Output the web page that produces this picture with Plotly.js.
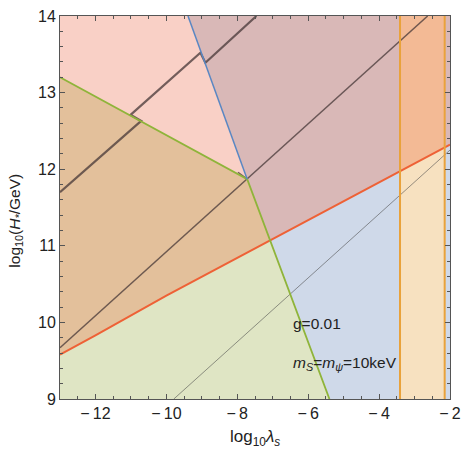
<!DOCTYPE html>
<html>
<head>
<meta charset="utf-8">
<script src="https://cdn.plot.ly/plotly-3.0.1.min.js"></script>
<style>html,body{margin:0;padding:0;background:#fff;}#chart{width:462px;height:450px;}</style>
</head>
<body>
<div id="chart"></div>
<script>
// Boundary curves
var redX = [-13, -12, -10, -8, -6, -4, -2];
var redY = [9.58, 9.83, 10.35, 10.84, 11.33, 11.82, 12.32];
var greenX = [-13, -7.72, -5.40];
var greenY = [13.2, 11.87, 9.0];
var blueX = [-9.39, -7.72];
var blueY = [14, 11.87];
var orangeX = [-3.41, -2.15];
var lineAX = [-13, -10.71, -11.01, -9.04, -8.90, -7.46];
var lineAY = [11.70, 12.63, 12.71, 13.52, 13.39, 14];
var lineBX = [-13, -7.72, -2.63, null, -7.98, -7.72];
var lineBY = [9.67, 11.87, 14, null, 11.96, 11.87];
var lineCX = [-9.79, -2];
var lineCY = [9, 12.25];
var xTicks = [-12, -10, -8, -6, -4, -2];
var yTicks = [9, 10, 11, 12, 13, 14];
var labelG = 'g=0.01';
var labelM = '<i>m<sub>S</sub></i>=<i>m<sub>ψ</sub></i>=10keV';
var xTitle = 'log<sub>10</sub><i>λ<sub>s</sub></i>';
var yTitle = 'log<sub>10</sub>(<i>H<sub>*</sub></i>/GeV)';

var xmin = -13, xmax = -2, ymin = 9, ymax = 14;

function redAt(x) {
  for (var i = 0; i < redX.length - 1; i++) {
    if (x >= redX[i] && x <= redX[i + 1]) {
      var t = (x - redX[i]) / (redX[i + 1] - redX[i]);
      return redY[i] + t * (redY[i + 1] - redY[i]);
    }
  }
  return redY[redY.length - 1];
}
function greenLowAt(x) {
  var t = (x - greenX[1]) / (greenX[2] - greenX[1]);
  return greenY[1] + t * (greenY[2] - greenY[1]);
}
var lo = greenX[1], hi = greenX[2];
for (var k = 0; k < 60; k++) {
  var mid = (lo + hi) / 2;
  if (greenLowAt(mid) > redAt(mid)) lo = mid; else hi = mid;
}
var xi = (lo + hi) / 2;

function redBetween(a, b) {
  var xs = [a], ys = [redAt(a)];
  for (var i = 0; i < redX.length; i++) {
    if (redX[i] > a && redX[i] < b) { xs.push(redX[i]); ys.push(redY[i]); }
  }
  xs.push(b); ys.push(redAt(b));
  return [xs, ys];
}

function poly(xs, ys, color) {
  return {x: xs, y: ys, type: 'scatter', mode: 'lines', fill: 'toself',
    fillcolor: color, line: {width: 0, color: color}, hoverinfo: 'skip', showlegend: false};
}
function line(xs, ys, color, w) {
  return {x: xs, y: ys, type: 'scatter', mode: 'lines', line: {color: color, width: w},
    hoverinfo: 'skip', showlegend: false, connectgaps: false};
}

var traces = [];
traces.push(poly([xmin, xmax, xmax, xmin], [ymin, ymin, ymax, ymax], '#cfd9e9'));
var rAll = redBetween(xmin, xmax);
traces.push(poly(rAll[0].concat([xmax, xmin]), rAll[1].concat([ymax, ymax]), '#d9b8b7'));
traces.push(poly([xmin, xmin, greenX[0], greenX[1], greenX[2]], [ymin, greenY[0], greenY[0], greenY[1], greenY[2]], '#dfe5c4'));
var rL = redBetween(xmin, xi);
traces.push(poly(rL[0].concat([greenX[1], greenX[0]]), rL[1].concat([greenY[1], greenY[0]]), '#e3c09b'));
traces.push(poly([xmin, greenX[1], blueX[0], xmin], [greenY[0], greenY[1], blueY[0], ymax], '#f9d0c6'));
traces.push(poly([orangeX[0], orangeX[1], orangeX[1], orangeX[0]], [ymin, ymin, ymax, ymax], '#f7e1c0'));
var rO = redBetween(orangeX[0], orangeX[1]);
traces.push(poly(rO[0].concat([orangeX[1], orangeX[0]]), rO[1].concat([ymax, ymax]), '#f3ba95'));

traces.push(line(lineCX, lineCY, 'rgba(70,70,70,0.7)', 0.8));
traces.push(line(lineBX, lineBY, 'rgba(70,55,55,0.75)', 1.5));
traces.push(line(lineAX, lineAY, 'rgba(70,55,55,0.75)', 2.2));
traces.push(line(redX, redY, '#ee6136', 2));
traces.push(line(greenX, greenY, '#8fb43a', 1.8));
traces.push(line(blueX, blueY, '#5a87c3', 1.5));
traces.push(line([orangeX[0], orangeX[0], null, orangeX[1], orangeX[1]], [ymin, ymax, null, ymin, ymax], '#e9a23b', 2));
traces.push({x: [xmin, xmax], y: [ymin, ymax], xaxis: 'x2', yaxis: 'y2', type: 'scatter', mode: 'lines',
  line: {width: 0, color: 'rgba(0,0,0,0)'}, hoverinfo: 'skip', showlegend: false});

var fontFam = 'Liberation Sans, Arial, sans-serif';
var tc = '#555';
function baseAxis(range, vals, minorD) {
  return {
    range: range, showgrid: false, zeroline: false, fixedrange: true,
    showline: true, linecolor: tc, linewidth: 1,
    ticks: 'inside', ticklen: 5, tickcolor: tc, tickwidth: 1,
    tickvals: vals,
    minor: {dtick: minorD, tick0: 0, ticks: 'inside', ticklen: 3, tickcolor: tc, tickwidth: 1, showgrid: false}
  };
}
var xa = baseAxis([xmin, xmax], xTicks, 0.5);
xa.ticktext = xTicks.map(function (v) { return v < 0 ? '\u2212\u2009' + Math.abs(v) : String(v); });
xa.tickfont = {family: fontFam, size: 16, color: '#222'};
var ya = baseAxis([ymin, ymax], yTicks, 0.2);
ya.ticktext = yTicks.map(String);
ya.tickfont = {family: fontFam, size: 16, color: '#222'};
var xa2 = baseAxis([xmin, xmax], xTicks, 0.5);
xa2.overlaying = 'x'; xa2.side = 'top'; xa2.anchor = 'y2'; xa2.showticklabels = false;
var ya2 = baseAxis([ymin, ymax], yTicks, 0.2);
ya2.overlaying = 'y'; ya2.side = 'right'; ya2.anchor = 'x2'; ya2.showticklabels = false;

var layout = {
  width: 462, height: 450,
  margin: {l: 60, r: 12, t: 16, b: 51},
  paper_bgcolor: '#fff', plot_bgcolor: '#fff',
  showlegend: false,
  font: {family: fontFam, size: 15, color: '#222'},
  xaxis: xa, yaxis: ya, xaxis2: xa2, yaxis2: ya2,
  annotations: [
    {x: -6.49, y: 9.98, xref: 'x', yref: 'y', text: labelG, showarrow: false, xanchor: 'left', yanchor: 'middle',
      font: {family: fontFam, size: 15.5, color: '#222'}},
    {x: -6.49, y: 9.47, xref: 'x', yref: 'y', text: labelM, showarrow: false, xanchor: 'left', yanchor: 'middle',
      font: {family: fontFam, size: 15.5, color: '#222'}},
    {x: 0.5, y: -0.136, xref: 'paper', yref: 'paper', text: xTitle, showarrow: false, xanchor: 'center', yanchor: 'bottom',
      font: {family: fontFam, size: 17, color: '#222'}},
    {x: -0.115, y: 0.466, xref: 'paper', yref: 'paper', text: yTitle, showarrow: false, xanchor: 'center', yanchor: 'middle',
      textangle: -90, font: {family: fontFam, size: 15.5, color: '#222'}}
  ]
};

Plotly.newPlot('chart', traces, layout, {staticPlot: true, displayModeBar: false});
</script>
</body>
</html>
